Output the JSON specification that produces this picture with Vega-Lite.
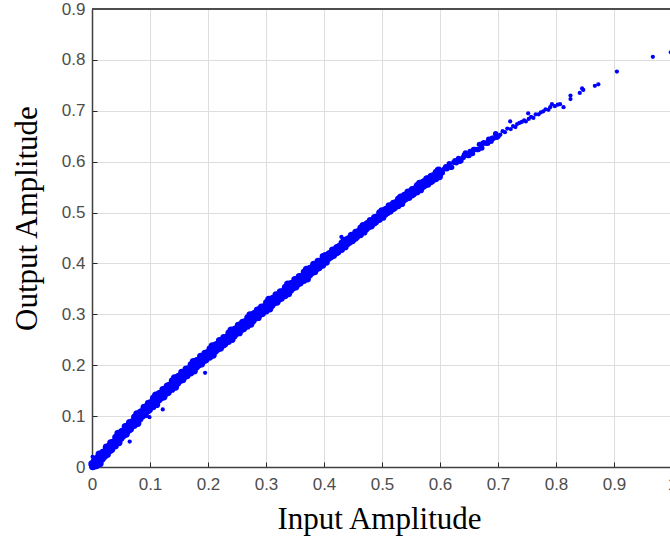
{
"$schema": "https://vega.github.io/schema/vega-lite/v6.json",
"width": 578, "height": 458,
"autosize": {"type": "none"},
"padding": {"left": 92, "top": 9, "right": 0, "bottom": 70},
"background": "white",
"config": {"view": {"stroke": null}},
"datasets": {
"dense": [
{"x":0,"y":0.006},{"x":0.0025,"y":0.002},{"x":0.005,"y":0.007},{"x":0.0075,"y":0.003},{"x":0.01,"y":0.016},{"x":0.0125,"y":0.025},{"x":0.015,"y":0.017},{"x":0.0175,"y":0.016},{"x":0.02,"y":0.029},{"x":0.0225,"y":0.027},
{"x":0.025,"y":0.039},{"x":0.0275,"y":0.030},{"x":0.03,"y":0.038},{"x":0.0325,"y":0.047},{"x":0.035,"y":0.040},{"x":0.0375,"y":0.048},{"x":0.04,"y":0.042},{"x":0.0425,"y":0.057},{"x":0.045,"y":0.066},{"x":0.0475,"y":0.058},
{"x":0.05,"y":0.057},{"x":0.0525,"y":0.070},{"x":0.055,"y":0.068},{"x":0.0575,"y":0.079},{"x":0.06,"y":0.070},{"x":0.0625,"y":0.078},{"x":0.065,"y":0.087},{"x":0.0675,"y":0.080},{"x":0.07,"y":0.088},{"x":0.0725,"y":0.082},
{"x":0.075,"y":0.096},{"x":0.0775,"y":0.104},{"x":0.08,"y":0.096},{"x":0.0825,"y":0.095},{"x":0.085,"y":0.108},{"x":0.0875,"y":0.106},{"x":0.09,"y":0.117},{"x":0.0925,"y":0.108},{"x":0.095,"y":0.116},{"x":0.0975,"y":0.125},
{"x":0.1,"y":0.118},{"x":0.1025,"y":0.126},{"x":0.105,"y":0.119},{"x":0.1075,"y":0.133},{"x":0.11,"y":0.141},{"x":0.1125,"y":0.133},{"x":0.115,"y":0.132},{"x":0.1175,"y":0.144},{"x":0.12,"y":0.142},{"x":0.1225,"y":0.152},
{"x":0.125,"y":0.143},{"x":0.1275,"y":0.151},{"x":0.13,"y":0.159},{"x":0.1325,"y":0.152},{"x":0.135,"y":0.159},{"x":0.1375,"y":0.153},{"x":0.14,"y":0.167},{"x":0.1425,"y":0.175},{"x":0.145,"y":0.167},{"x":0.1475,"y":0.165},
{"x":0.15,"y":0.178},{"x":0.1525,"y":0.175},{"x":0.155,"y":0.186},{"x":0.1575,"y":0.176},{"x":0.16,"y":0.184},{"x":0.1625,"y":0.192},{"x":0.165,"y":0.184},{"x":0.1675,"y":0.192},{"x":0.17,"y":0.185},{"x":0.1725,"y":0.199},
{"x":0.175,"y":0.207},{"x":0.1775,"y":0.198},{"x":0.18,"y":0.197},{"x":0.1825,"y":0.209},{"x":0.185,"y":0.207},{"x":0.1875,"y":0.217},{"x":0.19,"y":0.207},{"x":0.1925,"y":0.215},{"x":0.195,"y":0.223},{"x":0.1975,"y":0.216},
{"x":0.2,"y":0.223},{"x":0.2025,"y":0.216},{"x":0.205,"y":0.230},{"x":0.2075,"y":0.238},{"x":0.21,"y":0.229},{"x":0.2125,"y":0.228},{"x":0.215,"y":0.240},{"x":0.2175,"y":0.237},{"x":0.22,"y":0.248},{"x":0.2225,"y":0.238},
{"x":0.225,"y":0.245},{"x":0.2275,"y":0.254},{"x":0.23,"y":0.246},{"x":0.2325,"y":0.254},{"x":0.235,"y":0.247},{"x":0.2375,"y":0.260},{"x":0.24,"y":0.269},{"x":0.2425,"y":0.260},{"x":0.245,"y":0.258},{"x":0.2475,"y":0.271},
{"x":0.25,"y":0.268},{"x":0.2525,"y":0.278},{"x":0.255,"y":0.269},{"x":0.2575,"y":0.276},{"x":0.26,"y":0.284},{"x":0.2625,"y":0.277},{"x":0.265,"y":0.284},{"x":0.2675,"y":0.277},{"x":0.27,"y":0.290},{"x":0.2725,"y":0.299},
{"x":0.275,"y":0.290},{"x":0.2775,"y":0.288},{"x":0.28,"y":0.301},{"x":0.2825,"y":0.298},{"x":0.285,"y":0.308},{"x":0.2875,"y":0.299},{"x":0.29,"y":0.306},{"x":0.2925,"y":0.314},{"x":0.295,"y":0.306},{"x":0.2975,"y":0.314},
{"x":0.3,"y":0.307},{"x":0.3025,"y":0.320},{"x":0.305,"y":0.329},{"x":0.3075,"y":0.320},{"x":0.31,"y":0.318},{"x":0.3125,"y":0.331},{"x":0.315,"y":0.328},{"x":0.3175,"y":0.338},{"x":0.32,"y":0.328},{"x":0.3225,"y":0.336},
{"x":0.325,"y":0.344},{"x":0.3275,"y":0.336},{"x":0.33,"y":0.344},{"x":0.3325,"y":0.337},{"x":0.335,"y":0.350},{"x":0.3375,"y":0.359},{"x":0.34,"y":0.350},{"x":0.3425,"y":0.348},{"x":0.345,"y":0.360},{"x":0.3475,"y":0.358},
{"x":0.35,"y":0.368},{"x":0.3525,"y":0.358},{"x":0.355,"y":0.366},{"x":0.3575,"y":0.374},{"x":0.36,"y":0.366},{"x":0.3625,"y":0.374},{"x":0.365,"y":0.367},{"x":0.3675,"y":0.380},{"x":0.37,"y":0.388},{"x":0.3725,"y":0.380},
{"x":0.375,"y":0.378},{"x":0.3775,"y":0.390},{"x":0.38,"y":0.388},{"x":0.3825,"y":0.398},{"x":0.385,"y":0.388},{"x":0.3875,"y":0.396},{"x":0.39,"y":0.404},{"x":0.3925,"y":0.396},{"x":0.395,"y":0.403},{"x":0.3975,"y":0.397},
{"x":0.4,"y":0.409},{"x":0.4025,"y":0.415},{"x":0.405,"y":0.411},{"x":0.4075,"y":0.410},{"x":0.41,"y":0.419},{"x":0.4125,"y":0.417},{"x":0.415,"y":0.426},{"x":0.4175,"y":0.420},{"x":0.42,"y":0.425},{"x":0.4225,"y":0.431},
{"x":0.425,"y":0.427},{"x":0.4275,"y":0.433},{"x":0.43,"y":0.428},{"x":0.4325,"y":0.438},{"x":0.435,"y":0.445},{"x":0.4375,"y":0.440},{"x":0.44,"y":0.439},{"x":0.4425,"y":0.448},{"x":0.445,"y":0.447},{"x":0.4475,"y":0.455},
{"x":0.45,"y":0.449},{"x":0.4525,"y":0.454},{"x":0.455,"y":0.461},{"x":0.4575,"y":0.456},{"x":0.46,"y":0.462},{"x":0.4625,"y":0.457},{"x":0.465,"y":0.468},{"x":0.4675,"y":0.474},{"x":0.47,"y":0.469},{"x":0.4725,"y":0.468},
{"x":0.475,"y":0.478},{"x":0.4775,"y":0.476},{"x":0.48,"y":0.484},{"x":0.4825,"y":0.478},{"x":0.485,"y":0.484},{"x":0.4875,"y":0.490},{"x":0.49,"y":0.485},{"x":0.4925,"y":0.491},{"x":0.495,"y":0.487},{"x":0.4975,"y":0.497},
{"x":0.5,"y":0.503},{"x":0.5025,"y":0.498},{"x":0.505,"y":0.497},{"x":0.5075,"y":0.506},{"x":0.51,"y":0.504},{"x":0.5125,"y":0.513},{"x":0.515,"y":0.507},{"x":0.5175,"y":0.512},{"x":0.52,"y":0.518},{"x":0.5225,"y":0.513},
{"x":0.525,"y":0.519},{"x":0.5275,"y":0.514},{"x":0.53,"y":0.524},{"x":0.5325,"y":0.530},{"x":0.535,"y":0.525},{"x":0.5375,"y":0.525},{"x":0.54,"y":0.534},{"x":0.5425,"y":0.532},{"x":0.545,"y":0.540},{"x":0.5475,"y":0.534},
{"x":0.55,"y":0.539},{"x":0.5525,"y":0.545},{"x":0.555,"y":0.540},{"x":0.5575,"y":0.546},{"x":0.56,"y":0.541},{"x":0.5625,"y":0.551},{"x":0.565,"y":0.557},{"x":0.5675,"y":0.552},{"x":0.57,"y":0.551},{"x":0.5725,"y":0.560},
{"x":0.575,"y":0.558},{"x":0.5775,"y":0.566},{"x":0.58,"y":0.560},{"x":0.5825,"y":0.565},{"x":0.585,"y":0.571},{"x":0.5875,"y":0.566},{"x":0.59,"y":0.572},{"x":0.5925,"y":0.567},{"x":0.595,"y":0.577},{"x":0.5975,"y":0.583},
{"x":0.00125,"y":0.001},{"x":0.00375,"y":0.010},{"x":0.00625,"y":0.005},{"x":0.00875,"y":0.017},{"x":0.01125,"y":0.010},{"x":0.01375,"y":0.007},{"x":0.01625,"y":0.021},{"x":0.01875,"y":0.028},{"x":0.02125,"y":0.021},{"x":0.02375,"y":0.029},
{"x":0.02625,"y":0.025},{"x":0.02875,"y":0.040},{"x":0.03125,"y":0.033},{"x":0.03375,"y":0.035},{"x":0.03625,"y":0.048},{"x":0.03875,"y":0.046},{"x":0.04125,"y":0.058},{"x":0.04375,"y":0.051},{"x":0.04625,"y":0.048},{"x":0.04875,"y":0.062},
{"x":0.05125,"y":0.069},{"x":0.05375,"y":0.062},{"x":0.05625,"y":0.070},{"x":0.05875,"y":0.065},{"x":0.06125,"y":0.080},{"x":0.06375,"y":0.073},{"x":0.06625,"y":0.075},{"x":0.06875,"y":0.088},{"x":0.07125,"y":0.086},{"x":0.07375,"y":0.098},
{"x":0.07625,"y":0.090},{"x":0.07875,"y":0.086},{"x":0.08125,"y":0.100},{"x":0.08375,"y":0.107},{"x":0.08625,"y":0.100},{"x":0.08875,"y":0.108},{"x":0.09125,"y":0.103},{"x":0.09375,"y":0.118},{"x":0.09625,"y":0.111},{"x":0.09875,"y":0.113},
{"x":0.10125,"y":0.126},{"x":0.10375,"y":0.124},{"x":0.10625,"y":0.135},{"x":0.10875,"y":0.127},{"x":0.11125,"y":0.123},{"x":0.11375,"y":0.137},{"x":0.11625,"y":0.144},{"x":0.11875,"y":0.136},{"x":0.12125,"y":0.144},{"x":0.12375,"y":0.138},
{"x":0.12625,"y":0.153},{"x":0.12875,"y":0.146},{"x":0.13125,"y":0.147},{"x":0.13375,"y":0.160},{"x":0.13625,"y":0.157},{"x":0.13875,"y":0.169},{"x":0.14125,"y":0.161},{"x":0.14375,"y":0.157},{"x":0.14625,"y":0.171},{"x":0.14875,"y":0.177},
{"x":0.15125,"y":0.170},{"x":0.15375,"y":0.177},{"x":0.15625,"y":0.172},{"x":0.15875,"y":0.186},{"x":0.16125,"y":0.179},{"x":0.16375,"y":0.180},{"x":0.16625,"y":0.192},{"x":0.16875,"y":0.190},{"x":0.17125,"y":0.201},{"x":0.17375,"y":0.193},
{"x":0.17625,"y":0.189},{"x":0.17875,"y":0.202},{"x":0.18125,"y":0.209},{"x":0.18375,"y":0.201},{"x":0.18625,"y":0.209},{"x":0.18875,"y":0.203},{"x":0.19125,"y":0.217},{"x":0.19375,"y":0.210},{"x":0.19625,"y":0.211},{"x":0.19875,"y":0.224},
{"x":0.20125,"y":0.221},{"x":0.20375,"y":0.232},{"x":0.20625,"y":0.224},{"x":0.20875,"y":0.220},{"x":0.21125,"y":0.233},{"x":0.21375,"y":0.240},{"x":0.21625,"y":0.232},{"x":0.21875,"y":0.239},{"x":0.22125,"y":0.234},{"x":0.22375,"y":0.248},
{"x":0.22625,"y":0.240},{"x":0.22875,"y":0.242},{"x":0.23125,"y":0.254},{"x":0.23375,"y":0.252},{"x":0.23625,"y":0.263},{"x":0.23875,"y":0.254},{"x":0.24125,"y":0.251},{"x":0.24375,"y":0.264},{"x":0.24625,"y":0.270},{"x":0.24875,"y":0.263},
{"x":0.25125,"y":0.270},{"x":0.25375,"y":0.264},{"x":0.25625,"y":0.279},{"x":0.25875,"y":0.271},{"x":0.26125,"y":0.272},{"x":0.26375,"y":0.285},{"x":0.26625,"y":0.282},{"x":0.26875,"y":0.293},{"x":0.27125,"y":0.284},{"x":0.27375,"y":0.281},
{"x":0.27625,"y":0.294},{"x":0.27875,"y":0.300},{"x":0.28125,"y":0.293},{"x":0.28375,"y":0.300},{"x":0.28625,"y":0.294},{"x":0.28875,"y":0.309},{"x":0.29125,"y":0.301},{"x":0.29375,"y":0.302},{"x":0.29625,"y":0.314},{"x":0.29875,"y":0.312},
{"x":0.30125,"y":0.323},{"x":0.30375,"y":0.314},{"x":0.30625,"y":0.311},{"x":0.30875,"y":0.324},{"x":0.31125,"y":0.330},{"x":0.31375,"y":0.323},{"x":0.31625,"y":0.330},{"x":0.31875,"y":0.324},{"x":0.32125,"y":0.338},{"x":0.32375,"y":0.331},
{"x":0.32625,"y":0.332},{"x":0.32875,"y":0.344},{"x":0.33125,"y":0.342},{"x":0.33375,"y":0.353},{"x":0.33625,"y":0.344},{"x":0.33875,"y":0.341},{"x":0.34125,"y":0.354},{"x":0.34375,"y":0.360},{"x":0.34625,"y":0.352},{"x":0.34875,"y":0.360},
{"x":0.35125,"y":0.354},{"x":0.35375,"y":0.368},{"x":0.35625,"y":0.361},{"x":0.35875,"y":0.362},{"x":0.36125,"y":0.374},{"x":0.36375,"y":0.372},{"x":0.36625,"y":0.383},{"x":0.36875,"y":0.374},{"x":0.37125,"y":0.370},{"x":0.37375,"y":0.384},
{"x":0.37625,"y":0.390},{"x":0.37875,"y":0.382},{"x":0.38125,"y":0.390},{"x":0.38375,"y":0.384},{"x":0.38625,"y":0.398},{"x":0.38875,"y":0.391},{"x":0.39125,"y":0.392},{"x":0.39375,"y":0.404},{"x":0.39625,"y":0.401},{"x":0.39875,"y":0.413},
{"x":0.40125,"y":0.405},{"x":0.40375,"y":0.403},{"x":0.40625,"y":0.413},{"x":0.40875,"y":0.418},{"x":0.41125,"y":0.413},{"x":0.41375,"y":0.419},{"x":0.41625,"y":0.416},{"x":0.41875,"y":0.426},{"x":0.42125,"y":0.421},{"x":0.42375,"y":0.423},
{"x":0.42625,"y":0.433},{"x":0.42875,"y":0.431},{"x":0.43125,"y":0.440},{"x":0.43375,"y":0.434},{"x":0.43625,"y":0.433},{"x":0.43875,"y":0.442},{"x":0.44125,"y":0.447},{"x":0.44375,"y":0.442},{"x":0.44625,"y":0.449},{"x":0.44875,"y":0.445},
{"x":0.45125,"y":0.455},{"x":0.45375,"y":0.450},{"x":0.45625,"y":0.453},{"x":0.45875,"y":0.462},{"x":0.46125,"y":0.460},{"x":0.46375,"y":0.469},{"x":0.46625,"y":0.464},{"x":0.46875,"y":0.462},{"x":0.47125,"y":0.471},{"x":0.47375,"y":0.476},
{"x":0.47625,"y":0.472},{"x":0.47875,"y":0.478},{"x":0.48125,"y":0.474},{"x":0.48375,"y":0.484},{"x":0.48625,"y":0.480},{"x":0.48875,"y":0.482},{"x":0.49125,"y":0.491},{"x":0.49375,"y":0.489},{"x":0.49625,"y":0.499},{"x":0.49875,"y":0.493},
{"x":0.50125,"y":0.491},{"x":0.50375,"y":0.500},{"x":0.50625,"y":0.505},{"x":0.50875,"y":0.500},{"x":0.51125,"y":0.506},{"x":0.51375,"y":0.503},{"x":0.51625,"y":0.513},{"x":0.51875,"y":0.508},{"x":0.52125,"y":0.510},{"x":0.52375,"y":0.519},
{"x":0.52625,"y":0.517},{"x":0.52875,"y":0.526},{"x":0.53125,"y":0.520},{"x":0.53375,"y":0.518},{"x":0.53625,"y":0.527},{"x":0.53875,"y":0.533},{"x":0.54125,"y":0.528},{"x":0.54375,"y":0.534},{"x":0.54625,"y":0.530},{"x":0.54875,"y":0.540},
{"x":0.55125,"y":0.535},{"x":0.55375,"y":0.537},{"x":0.55625,"y":0.546},{"x":0.55875,"y":0.544},{"x":0.56125,"y":0.553},{"x":0.56375,"y":0.547},{"x":0.56625,"y":0.545},{"x":0.56875,"y":0.554},{"x":0.57125,"y":0.559},{"x":0.57375,"y":0.554},
{"x":0.57625,"y":0.560},{"x":0.57875,"y":0.556},{"x":0.58125,"y":0.566},{"x":0.58375,"y":0.561},{"x":0.58625,"y":0.563},{"x":0.58875,"y":0.572},{"x":0.59125,"y":0.570},{"x":0.59375,"y":0.579},{"x":0.59625,"y":0.573},{"x":0.59875,"y":0.571}
],
"middle": [
{"x":0.6,"y":0.582},{"x":0.604,"y":0.578},{"x":0.608,"y":0.586},{"x":0.612,"y":0.586},{"x":0.616,"y":0.596},{"x":0.62,"y":0.589},{"x":0.624,"y":0.599},{"x":0.628,"y":0.598},{"x":0.632,"y":0.606},{"x":0.636,"y":0.602},
{"x":0.64,"y":0.608},{"x":0.644,"y":0.617},{"x":0.648,"y":0.612},{"x":0.652,"y":0.620},{"x":0.656,"y":0.616},{"x":0.66,"y":0.624},{"x":0.664,"y":0.624},{"x":0.668,"y":0.634},{"x":0.672,"y":0.627},{"x":0.676,"y":0.637},
{"x":0.68,"y":0.636},{"x":0.684,"y":0.644},{"x":0.688,"y":0.640},{"x":0.692,"y":0.646},{"x":0.696,"y":0.655},{"x":0.7,"y":0.650},
{"x":0.602,"y":0.577},{"x":0.61,"y":0.590},{"x":0.618,"y":0.589},{"x":0.626,"y":0.602},{"x":0.634,"y":0.601},{"x":0.642,"y":0.613},{"x":0.65,"y":0.612},{"x":0.658,"y":0.624},{"x":0.666,"y":0.624},{"x":0.674,"y":0.636},{"x":0.682,"y":0.636},{"x":0.69,"y":0.646},{"x":0.698,"y":0.648}
],
"sparse": [
{"x":0.704,"y":0.653},{"x":0.708,"y":0.660},{"x":0.712,"y":0.658},{"x":0.716,"y":0.665},{"x":0.721,"y":0.679},{"x":0.722,"y":0.664},{"x":0.726,"y":0.670},{"x":0.73,"y":0.668},{"x":0.733,"y":0.674},{"x":0.737,"y":0.676},
{"x":0.741,"y":0.678},{"x":0.745,"y":0.681},{"x":0.748,"y":0.679},{"x":0.752,"y":0.695},{"x":0.753,"y":0.684},{"x":0.757,"y":0.688},{"x":0.761,"y":0.686},{"x":0.765,"y":0.693},{"x":0.77,"y":0.693},{"x":0.774,"y":0.697},
{"x":0.778,"y":0.699},{"x":0.782,"y":0.703},{"x":0.787,"y":0.702},{"x":0.79,"y":0.707},{"x":0.793,"y":0.713},{"x":0.798,"y":0.709},{"x":0.803,"y":0.712},{"x":0.807,"y":0.713},{"x":0.813,"y":0.707},{"x":0.825,"y":0.723},
{"x":0.825,"y":0.730},{"x":0.841,"y":0.735},{"x":0.847,"y":0.741},{"x":0.845,"y":0.744},{"x":0.867,"y":0.749},{"x":0.873,"y":0.752},{"x":0.905,"y":0.777},{"x":0.967,"y":0.806},{"x":0.998,"y":0.815},
{"x":0.195,"y":0.185},{"x":0.122,"y":0.113},{"x":0.065,"y":0.05},{"x":0.099,"y":0.098},{"x":0.43,"y":0.452},{"x":0.002,"y":0.012},{"x":0.001,"y":0.02},{"x":0.004,"y":0.009},{"x":0.003,"y":0.016}
],
"border": [{"top": 0.9}]
},
"layer": [
{"data": {"name": "dense"},
"mark": {"type": "circle", "size": 55, "opacity": 1, "color": "#0000ff"},
"encoding": {
"x": {"field": "x", "type": "quantitative",
 "scale": {"domain": [0, 1], "range": [0, 580], "nice": false, "zero": false},
 "axis": {"values": [0,0.1,0.2,0.3,0.4,0.5,0.6,0.7,0.8,0.9,1], "format": "~g",
  "labelFont": "Liberation Sans", "labelFontSize": 17, "labelColor": "#4d4d4d", "labelPadding": 14, "labelFlush": false, "labelOverlap": false,
  "tickSize": -5, "tickColor": "#262626", "tickWidth": 1,
  "domainColor": "#404040", "domainWidth": 1.5,
  "grid": true, "gridColor": "#dedede", "gridWidth": 1,
  "title": "Input Amplitude", "titleFont": "Liberation Serif", "titleFontSize": 31, "titleFontWeight": "normal", "titleColor": "#000000",
  "titleX": 287, "titleY": 61, "titleBaseline": "alphabetic"}},
"y": {"field": "y", "type": "quantitative",
 "scale": {"domain": [0, 0.9], "nice": false, "zero": false},
 "axis": {"values": [0,0.1,0.2,0.3,0.4,0.5,0.6,0.7,0.8,0.9], "format": "~g",
  "labelFont": "Liberation Sans", "labelFontSize": 17, "labelColor": "#4d4d4d", "labelPadding": 12, "labelFlush": false, "labelOverlap": false,
  "tickSize": -5, "tickColor": "#262626", "tickWidth": 1,
  "domainColor": "#404040", "domainWidth": 1.5,
  "grid": true, "gridColor": "#dedede", "gridWidth": 1,
  "title": "Output Amplitude", "titleFont": "Liberation Serif", "titleFontSize": 31, "titleFontWeight": "normal", "titleColor": "#000000",
  "titleX": -56, "titleY": 209, "titleBaseline": "alphabetic", "titleAngle": 270}}
}},
{"data": {"name": "middle"},
 "mark": {"type": "circle", "size": 30, "opacity": 1, "color": "#0000ff"},
 "encoding": {"x": {"field": "x", "type": "quantitative"}, "y": {"field": "y", "type": "quantitative"}}},
{"data": {"name": "sparse"},
 "mark": {"type": "circle", "size": 18, "opacity": 1, "color": "#0000ff"},
 "encoding": {"x": {"field": "x", "type": "quantitative"}, "y": {"field": "y", "type": "quantitative"}}},
{"data": {"name": "border"},
 "mark": {"type": "rule", "color": "#4d4d4d", "strokeWidth": 2},
 "encoding": {"y": {"field": "top", "type": "quantitative"}}}
]
}
